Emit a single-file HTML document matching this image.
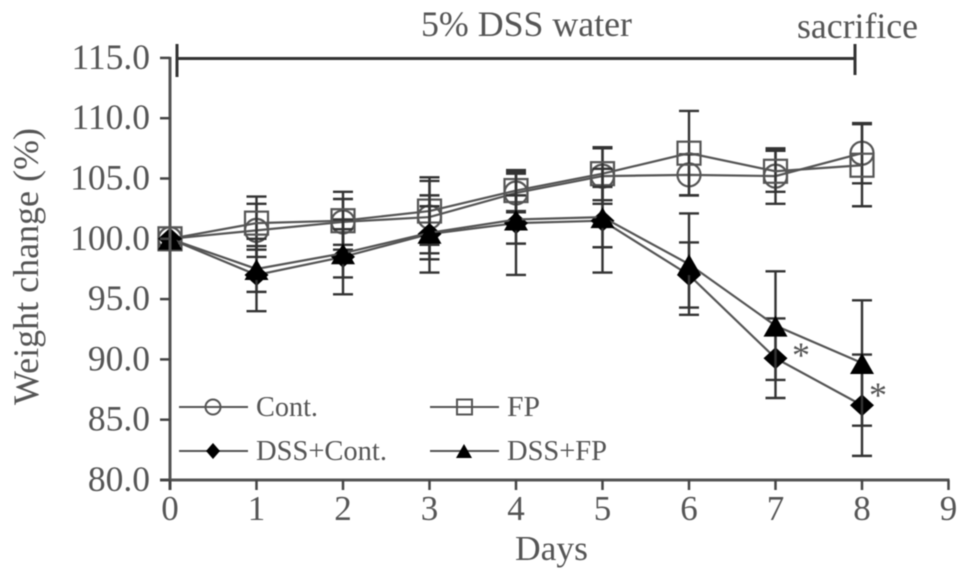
<!DOCTYPE html>
<html>
<head>
<meta charset="utf-8">
<title>Weight change chart</title>
<style>
html,body{margin:0;padding:0;background:#fff;}
#chart{display:block;filter:blur(0.45px);}
text{font-family:"Liberation Serif",serif;fill:#555;}
</style>
</head>
<body>
<svg id="chart" width="969" height="581" viewBox="0 0 969 581">
  <g id="series-layer"></g>
  <g id="axes-layer"></g>
  <line x1="177" y1="58.5" x2="855" y2="58.5" stroke="#333" stroke-width="3"/>
  <line x1="177" y1="44" x2="177" y2="77" stroke="#333" stroke-width="3"/>
  <line x1="855" y1="44" x2="855" y2="75" stroke="#333" stroke-width="3"/>
  <text x="421" y="36" font-size="36" textLength="211" lengthAdjust="spacingAndGlyphs">5% DSS water</text>
  <text x="797" y="38" font-size="36" textLength="121" lengthAdjust="spacingAndGlyphs">sacrifice</text>
  <text transform="translate(38,405) rotate(-90)" font-size="36" textLength="277" lengthAdjust="spacingAndGlyphs">Weight change (%)</text>
  <text x="515" y="560" font-size="35" textLength="73" lengthAdjust="spacingAndGlyphs">Days</text>
  <text x="792" y="367" font-size="36">*</text>
  <text x="869" y="407" font-size="36">*</text>
  <g id="legend">
    <g>
      <line x1="179" y1="407" x2="248" y2="407" stroke="#555" stroke-width="2"/>
      <circle cx="213" cy="407" r="7.5" fill="none" stroke="#555" stroke-width="2"/>
      <text x="256" y="416" font-size="28" textLength="62" lengthAdjust="spacingAndGlyphs">Cont.</text>
    </g>
    <g>
      <line x1="430" y1="407" x2="499" y2="407" stroke="#555" stroke-width="2"/>
      <rect x="457" y="399.5" width="15" height="15" fill="none" stroke="#555" stroke-width="2"/>
      <text x="507" y="416" font-size="28" textLength="33" lengthAdjust="spacingAndGlyphs">FP</text>
    </g>
    <g>
      <line x1="179" y1="451" x2="248" y2="451" stroke="#555" stroke-width="2"/>
      <polygon points="213,443 220,451 213,459 206,451" fill="#000"/>
      <text x="256" y="460" font-size="28" textLength="131" lengthAdjust="spacingAndGlyphs">DSS+Cont.</text>
    </g>
    <g>
      <line x1="430" y1="451" x2="499" y2="451" stroke="#555" stroke-width="2"/>
      <polygon points="464,444 472,458 456,458" fill="#000"/>
      <text x="507" y="460" font-size="28" textLength="100" lengthAdjust="spacingAndGlyphs">DSS+FP</text>
    </g>
  </g>
</svg>
<script>
const days = [0, 1, 2, 3, 4, 5, 6, 7, 8];
const xTicks = [0, 1, 2, 3, 4, 5, 6, 7, 8, 9];
const yTicks = [80, 85, 90, 95, 100, 105, 110, 115];

const contValues = [100, 100.7, 101.4, 101.8, 103.8, 105.2, 105.3, 105.2, 107.1];
const contErrors = [0, 2.2, 1.9, 3, 1.6, 2.3, 1.7, 2.3, 2.5];
const fpValues = [100, 101.3, 101.5, 102.3, 104, 105.4, 107.1, 105.6, 106.1];
const fpErrors = [0, 2.2, 2.4, 2.8, 1.7, 2.2, 3.5, 1.7, 3.4];
const dssContValues = [100, 97, 98.5, 100.4, 101.3, 101.5, 97, 90.1, 86.2];
const dssContErrors = [0, 3, 3.1, 3.2, 4.3, 4.3, 2.7, 3.3, 4.2];
const dssFpValues = [100, 97.5, 98.8, 100.5, 101.6, 101.8, 97.9, 92.8, 89.7];
const dssFpErrors = [0, 1.9, 2, 2.2, 2, 2.5, 4.2, 4.5, 5.2];

const NS = 'http://www.w3.org/2000/svg';
const xScale = function (d) { return 170 + d * 86.5; };
const yScale = function (v) { return 480 - (v - 80) * 12.06; };

function make(parent, tag, attrs) {
  const el = document.createElementNS(NS, tag);
  Object.keys(attrs).forEach(function (k) { el.setAttribute(k, attrs[k]); });
  parent.appendChild(el);
  return el;
}

const axes = document.getElementById('axes-layer');
const yAxisLine = make(axes, 'line', { x1: 170, y1: yScale(115) - 1, x2: 170, y2: 490, stroke: '#555', 'stroke-width': 3 });


const xAxisLine = make(axes, 'line', { x1: 160, y1: 480, x2: xScale(9) + 1, y2: 480, stroke: '#555', 'stroke-width': 3 });



yTicks.forEach(function (t) {
  const mark = make(axes, 'line', { x1: 160, y1: yScale(t), x2: 170, y2: yScale(t), stroke: '#444', 'stroke-width': 2.5 });
  
  
  const label = make(axes, 'text', { x: 150, y: yScale(t) + 11, 'font-size': 35.5, 'text-anchor': 'end' });
  
  
  label.textContent = t.toFixed(1);
});
xTicks.forEach(function (t) {
  const mark = make(axes, 'line', { x1: xScale(t), y1: 480, x2: xScale(t), y2: 490, stroke: '#444', 'stroke-width': 2.5 });
  
  
  const label = make(axes, 'text', { x: xScale(t), y: 520, 'font-size': 35, 'text-anchor': 'middle' });
  
  
  label.textContent = t;
});

const layer = document.getElementById('series-layer');

function drawErrors(group, values, errors) {
  values.forEach(function (v, i) {
    if (!errors[i]) return;
    const x = xScale(days[i]);
    const top = yScale(v + errors[i]);
    const bottom = yScale(v - errors[i]);
    const bar = make(group, 'path', {
      d: 'M' + (x - 10) + ' ' + top + 'H' + (x + 10) + 'M' + x + ' ' + top + 'V' + bottom + 'M' + (x - 10) + ' ' + bottom + 'H' + (x + 10),
      fill: 'none', stroke: '#333', 'stroke-width': 2.4
    });
    
    
  });
}

function drawLine(group, values) {
  const pts = values.map(function (v, i) { return xScale(days[i]) + ',' + yScale(v); }).join(' ');
  const line = make(group, 'polyline', { points: pts, fill: 'none', stroke: '#555', 'stroke-width': 2.2 });
  
  
}

function drawMarkers(group, values, shape) {
  values.forEach(function (v, i) {
    const x = xScale(days[i]);
    const y = yScale(v);
    let m;
    if (shape === 'circle') {
      m = make(group, 'circle', { cx: x, cy: y, r: 11.5, fill: 'none', stroke: '#555', 'stroke-width': 2.2 });
    } else if (shape === 'square') {
      m = make(group, 'rect', { x: x - 11.5, y: y - 11.5, width: 23, height: 23, fill: 'none', stroke: '#555', 'stroke-width': 2.2 });
    } else if (shape === 'diamond') {
      m = make(group, 'polygon', { points: x + ',' + (y - 11) + ' ' + (x + 12) + ',' + y + ' ' + x + ',' + (y + 11) + ' ' + (x - 12) + ',' + y, fill: '#000' });
    } else {
      m = make(group, 'polygon', { points: x + ',' + (y - 10) + ' ' + (x + 12) + ',' + (y + 11) + ' ' + (x - 12) + ',' + (y + 11), fill: '#000' });
    }
    
    
  });
}

function drawSeries(name, values, errors, shape) {
  const group = make(layer, 'g', {});
  
  
  drawErrors(group, values, errors);
  drawLine(group, values);
  drawMarkers(group, values, shape);
}

drawSeries('series-cont', contValues, contErrors, 'circle');
drawSeries('series-fp', fpValues, fpErrors, 'square');
drawSeries('series-dss-cont', dssContValues, dssContErrors, 'diamond');
drawSeries('series-dss-fp', dssFpValues, dssFpErrors, 'triangle');
</script>
</body>
</html>
